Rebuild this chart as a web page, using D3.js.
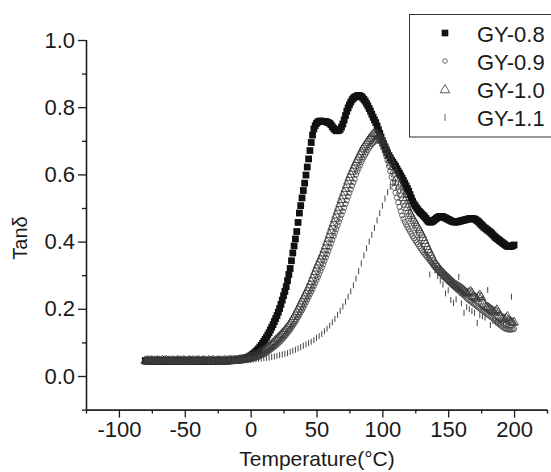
<!DOCTYPE html>
<meta charset="utf-8">
<style>
    body { margin: 0; background: #fff; }
    svg { display: block; }
    text { font-family: "Liberation Sans", Arial, sans-serif; fill: #1a1a1a; }
    .axis path, .axis line { stroke: #1a1a1a; stroke-width: 1.3; fill: none; }
</style>
<svg width="551" height="472"></svg>
<script src="https://d3js.org/d3.v7.min.js"></script>
<script>

// DMA scans starting at -80 °C; GY-0.8/0.9/1.0 read every 1 °C, GY-1.1 every 2 °C
var tStart = -80;

var gy08 = [
  .046,.044,.045,.043,.045,.046,.044,.045,.044,.046, // -80
  .045,.043,.044,.046,.045,.044,.045,.043,.045,.046,
  .044,.045,.044,.046,.045,.043,.044,.045,.046,.044,
  .045,.044,.043,.045,.046,.044,.045,.044,.045,.043,
  .044,.046,.045,.044,.043,.045,.046,.044,.045,.044,
  .045,.043,.044,.046,.045,.044,.045,.046,.044,.045,
  .045,.046,.044,.045,.047,.045,.046,.047,.046,.047,
  .047,.048,.048,.049,.050,.051,.052,.054,.055,.057, // -10
  .060,.063,.066,.069,.073,.077,.081,.086,.091,.097, // 0
  .103,.109,.115,.122,.129,.137,.145,.153,.162,.171,
  .180,.190,.201,.213,.226,.239,.252,.266,.284,.302,
  .320,.343,.366,.387,.408,.430,.457,.485,.507,.530,
  .552,.574,.598,.622,.646,.671,.695,.717,.735,.745,
  .752,.756,.758,.759,.758,.757,.758,.757,.756,.754, // 50
  .752,.748,.742,.737,.733,.730,.730,.731,.734,.741,
  .750,.762,.775,.788,.798,.807,.815,.822,.827,.830,
  .832,.834,.835,.834,.832,.828,.823,.818,.811,.804,
  .796,.788,.779,.770,.762,.754,.744,.733,.722,.711,
  .700,.691,.682,.673,.664,.656,.649,.642,.636,.630, // 100
  .624,.617,.610,.603,.596,.589,.582,.574,.566,.558,
  .550,.540,.530,.520,.512,.506,.500,.495,.490,.486,
  .482,.478,.474,.469,.464,.460,.458,.458,.460,.463,
  .466,.469,.472,.474,.475,.475,.474,.472,.470,.468,
  .466,.464,.462,.460,.459,.458,.458,.459,.460,.461, // 150
  .462,.463,.464,.465,.466,.467,.468,.469,.469,.468,
  .467,.465,.462,.459,.455,.451,.447,.443,.440,.437,
  .434,.431,.428,.424,.420,.416,.412,.409,.406,.403,
  .400,.397,.394,.391,.388,.386,.385,.385,.386,.388,
  .390
];

var gy09 = [
  .044,.046,.045,.043,.045,.044,.046,.045,.043,.044, // -80
  .045,.044,.046,.045,.043,.045,.044,.045,.046,.044,
  .043,.045,.046,.044,.045,.043,.045,.044,.046,.045,
  .044,.045,.043,.046,.044,.045,.044,.046,.045,.043,
  .045,.044,.046,.045,.043,.044,.045,.046,.044,.045,
  .043,.045,.044,.046,.045,.044,.043,.045,.046,.044,
  .045,.044,.046,.045,.044,.046,.045,.044,.046,.045,
  .046,.045,.047,.046,.047,.048,.047,.048,.049,.049, // -10
  .050,.051,.052,.053,.054,.056,.057,.059,.061,.063, // 0
  .065,.067,.069,.072,.075,.078,.081,.084,.087,.090,
  .093,.097,.101,.105,.109,.113,.118,.123,.128,.133,
  .138,.144,.150,.156,.162,.168,.175,.182,.189,.196,
  .203,.211,.219,.227,.235,.243,.251,.259,.268,.276,
  .285,.294,.303,.313,.322,.332,.342,.352,.362,.372, // 50
  .383,.394,.405,.416,.426,.437,.448,.459,.469,.480,
  .490,.501,.512,.523,.534,.545,.555,.566,.576,.586,
  .600,.609,.618,.627,.636,.645,.652,.659,.666,.673,
  .680,.685,.690,.694,.697,.700,.702,.703,.701,.697,
  .690,.680,.668,.655,.641,.625,.609,.592,.576,.560, // 100
  .545,.531,.517,.503,.490,.478,.468,.459,.451,.444,
  .437,.430,.423,.416,.410,.404,.398,.392,.386,.380,
  .374,.369,.364,.359,.354,.349,.344,.339,.334,.329,
  .324,.320,.316,.312,.308,.304,.300,.296,.292,.288,
  .284,.280,.276,.272,.268,.264,.260,.257,.254,.250, // 150
  .246,.243,.240,.236,.232,.228,.225,.222,.219,.216,
  .213,.210,.207,.204,.201,.198,.195,.192,.189,.186,
  .183,.180,.177,.174,.171,.167,.164,.160,.157,.153,
  .150,.147,.144,.142,.140,.139,.138,.138,.138,.139,
  .140
];

var gy10 = [
  .045,.043,.046,.044,.045,.046,.043,.045,.044,.046, // -80
  .044,.045,.043,.046,.044,.045,.046,.044,.045,.043,
  .046,.044,.045,.043,.045,.046,.044,.045,.043,.046,
  .045,.043,.044,.046,.045,.044,.046,.043,.045,.044,
  .046,.045,.043,.044,.046,.045,.044,.043,.046,.045,
  .044,.046,.045,.043,.044,.046,.045,.044,.045,.043,
  .046,.045,.044,.046,.045,.047,.045,.046,.047,.046,
  .047,.048,.048,.049,.049,.050,.051,.052,.053,.054, // -10
  .055,.057,.058,.060,.062,.064,.066,.068,.070,.073, // 0
  .075,.078,.081,.084,.087,.090,.094,.098,.102,.106,
  .110,.114,.118,.122,.126,.130,.135,.140,.145,.150,
  .155,.162,.169,.176,.183,.190,.198,.206,.214,.222,
  .230,.238,.246,.254,.262,.270,.280,.290,.300,.310,
  .320,.329,.338,.347,.356,.365,.376,.387,.398,.409, // 50
  .420,.432,.444,.455,.467,.478,.490,.501,.512,.524,
  .535,.546,.557,.568,.579,.590,.599,.608,.617,.626,
  .635,.643,.651,.659,.667,.675,.681,.687,.693,.699,
  .705,.710,.715,.720,.721,.721,.719,.716,.712,.707,
  .700,.692,.683,.674,.665,.655,.644,.633,.622,.611, // 100
  .600,.588,.576,.564,.552,.540,.530,.520,.510,.500,
  .490,.483,.476,.469,.462,.455,.448,.441,.434,.427,
  .420,.411,.402,.393,.384,.375,.367,.359,.351,.343,
  .335,.330,.325,.320,.315,.310,.306,.302,.298,.294,
  .290,.287,.283,.279,.276,.272,.270,.267,.265,.262, // 150
  .260,.257,.254,.250,.247,.245,.249,.252,.246,.238,
  .235,.232,.229,.236,.241,.234,.222,.215,.210,.205,
  .205,.202,.199,.196,.193,.190,.193,.197,.188,.180,
  .175,.172,.170,.168,.172,.177,.166,.162,.160,.158,
  .160
];

// GY-1.1, every 2 °C
var gy11 = [
  .046,.043,.046,.044,.045, .044,.046,.044,.046,.043, // -80
  .046,.045,.046,.044,.043, .044,.045,.043,.046,.045,
  .045,.046,.045,.046,.043, .046,.044,.045,.044,.046,
  .045,.044,.046,.045,.045, .045,.046,.046,.047,.047, // -20
  .048,.049,.050,.051,.052, .053,.054,.055,.057,.058, // 0
  .060,.062,.064,.066,.068, .072,.075,.078,.082,.086, // 20
  .090,.094,.098,.102,.107, .113,.119,.125,.133,.141, // 40
  .150,.160,.170,.182,.194, .207,.221,.236,.252,.270, // 60
  .290,.312,.335,.359,.380, .400,.420,.441,.463,.485, // 80
  .507,.528,.547,.563,.575, .578,.570,.555,.536,.513, // 100
  .489,.468,.449,.431,.413, .395,.377,.359,.302,.330, // 120
  .314,.298,.284,.272,.246, .255,.226,.217,.228,.295, // 140
  .216,.188,.205,.199,.193, .188,.158,.181,.178,.174, // 160
  .256,.152,.164,.160,.157, .155,.153,.152,.153,.236, // 180
  .156
];

var seriesNames = ["GY-0.8", "GY-0.9", "GY-1.0", "GY-1.1"];
var xMajor = [-100, -50, 0, 50, 100, 150, 200],
    xMinor = [-125, -75, -25, 25, 75, 125, 175, 225];
var yMajor = [0, 0.2, 0.4, 0.6, 0.8, 1.0],
    yMinor = [-0.1, 0.1, 0.3, 0.5, 0.7, 0.9];

var svg = d3.select("svg");

var x = d3.scaleLinear().domain([-125, 225]).range([86, 547]),
    y = d3.scaleLinear().domain([-0.1, 1.0]).range([409.6, 40]);

// marker shapes: filled square, open circle, open triangle, vertical dash
var squarePath = d3.symbol(d3.symbolSquare, 46)(),
    circlePath = d3.symbol(d3.symbolCircle, 21)(),
    trianglePath = d3.symbol(d3.symbolTriangle, 34)();

function pts(values, step) {
  return values.map(function(v, i) { return {t: tStart + i * step, v: v}; });
}
function place(d) { return "translate(" + x(d.t) + "," + y(d.v) + ")"; }

var plot = svg.append("g");

plot.append("g").selectAll("path")
  .data(pts(gy08, 1))
  .enter().append("path")
    .attr("d", squarePath)
    .attr("transform", place)
    .attr("fill", "#111");

plot.append("g").selectAll("path")
  .data(pts(gy09, 1))
  .enter().append("path")
    .attr("d", circlePath)
    .attr("transform", place)
    .attr("fill", "none")
    .attr("stroke", "#444")
    .attr("stroke-width", 0.8);

plot.append("g").selectAll("path")
  .data(pts(gy10, 1))
  .enter().append("path")
    .attr("d", trianglePath)
    .attr("transform", place)
    .attr("fill", "none")
    .attr("stroke", "#333")
    .attr("stroke-width", 0.8);

plot.append("g").selectAll("line")
  .data(pts(gy11, 2))
  .enter().append("line")
    .attr("x1", function(d) { return x(d.t); })
    .attr("x2", function(d) { return x(d.t); })
    .attr("y1", function(d) { return y(d.v) - 3; })
    .attr("y2", function(d) { return y(d.v) + 3; })
    .attr("stroke", "#444")
    .attr("stroke-width", 1);

// axes
var xAxis = svg.append("g").attr("class", "axis")
    .attr("transform", "translate(0,409.6)")
    .call(d3.axisBottom(x).tickValues(xMajor).tickSize(8).tickSizeOuter(0).tickPadding(4)
      .tickFormat(function(d) { return String(d); }));
xAxis.selectAll("text").style("font-size", "22px");

svg.append("g").attr("class", "axis")
    .attr("transform", "translate(0,409.6)")
    .call(d3.axisBottom(x).tickValues(xMinor).tickSize(4).tickSizeOuter(0).tickFormat(""));

var yAxis = svg.append("g").attr("class", "axis")
    .attr("transform", "translate(86,0)")
    .call(d3.axisLeft(y).tickValues(yMajor).tickSize(8).tickSizeOuter(0).tickPadding(3)
      .tickFormat(function(d) { return d.toFixed(1); }));
yAxis.selectAll("text").style("font-size", "22px");

svg.append("g").attr("class", "axis")
    .attr("transform", "translate(86,0)")
    .call(d3.axisLeft(y).tickValues(yMinor).tickSize(4).tickSizeOuter(0).tickFormat(""));

svg.selectAll(".axis .domain").attr("d", function() {
  return d3.select(this.parentNode).attr("transform") === "translate(86,0)"
    ? "M0.5,40V409.6" : "M86,0.5H547";
});

svg.append("text")
    .attr("x", 317)
    .attr("y", 466)
    .attr("text-anchor", "middle")
    .style("font-size", "21px")
    .text("Temperature(°C)");

svg.append("text")
    .attr("transform", "translate(27,238) rotate(-90)")
    .attr("text-anchor", "middle")
    .style("font-size", "20px")
    .text("Tanδ");

// legend
var legend = svg.append("g");
legend.append("rect")
    .attr("x", 409.5).attr("y", 14.5)
    .attr("width", 160).attr("height", 122.5)
    .attr("fill", "#fff")
    .attr("stroke", "#333")
    .attr("stroke-width", 1);

var rowY = function(i) { return 33 + i * 28; };

legend.append("path").attr("d", d3.symbol(d3.symbolSquare, 44)())
    .attr("transform", "translate(445," + rowY(0) + ")").attr("fill", "#111");
legend.append("path").attr("d", d3.symbol(d3.symbolCircle, 16)())
    .attr("transform", "translate(445," + rowY(1) + ")")
    .attr("fill", "none").attr("stroke", "#444").attr("stroke-width", 0.8);
legend.append("path").attr("d", d3.symbol(d3.symbolTriangle, 40)())
    .attr("transform", "translate(445," + (rowY(2) + 1) + ")")
    .attr("fill", "none").attr("stroke", "#333").attr("stroke-width", 0.8);
legend.append("line")
    .attr("x1", 445).attr("x2", 445)
    .attr("y1", rowY(3) - 3).attr("y2", rowY(3) + 4)
    .attr("stroke", "#555").attr("stroke-width", 0.9);

legend.selectAll("text.name")
  .data(seriesNames)
  .enter().append("text")
    .attr("class", "name")
    .attr("x", 477)
    .attr("y", function(d, i) { return rowY(i) + 8.5; })
    .style("font-size", "22px")
    .text(function(d) { return d; });

</script>
